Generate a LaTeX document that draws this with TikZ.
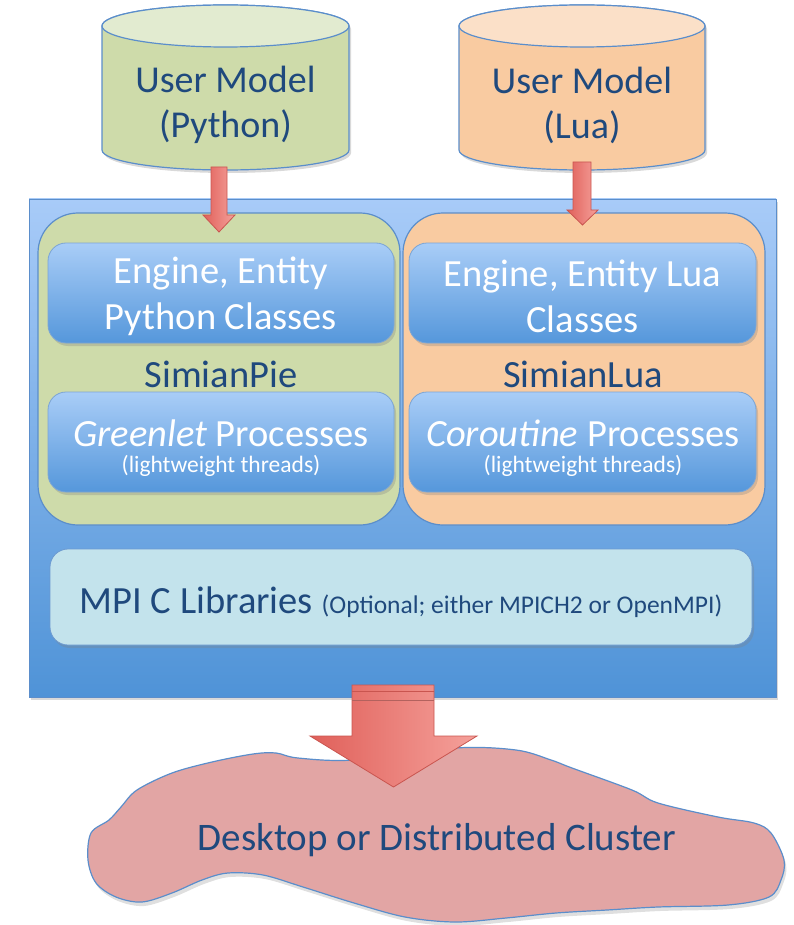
\documentclass[tikz,border=0pt]{standalone}
\usepackage{fontspec}
\setmainfont{Carlito}
\usetikzlibrary{shadows}
\definecolor{txtblue}{HTML}{1F497D}
\definecolor{edgeblue}{HTML}{5B8ECB}
\definecolor{frametop}{HTML}{A8CBF8}
\definecolor{framebot}{HTML}{4F93D7}
\definecolor{boxtop}{HTML}{A9CDF7}
\definecolor{boxbot}{HTML}{5597DB}
\definecolor{pyfill}{HTML}{CEDBAA}
\definecolor{pytop}{HTML}{E2EBD0}
\definecolor{luafill}{HTML}{F9CBA1}
\definecolor{luatop}{HTML}{FBE0C8}
\definecolor{mpifill}{HTML}{C3E3EC}
\definecolor{cloudfill}{HTML}{E2A5A4}
\definecolor{arrL}{HTML}{E0605A}
\definecolor{arrR}{HTML}{F5A19B}
\definecolor{arrEdge}{HTML}{C9554F}
\begin{document}
\begin{tikzpicture}[x=1pt,y=1pt,
  shadowed/.style={drop shadow={opacity=0.30,shadow xshift=2pt,shadow yshift=-3pt}},
  framebox/.style={draw=edgeblue,line width=0.8pt,top color=frametop,bottom color=framebot,
    inner sep=0pt,outer sep=0pt,anchor=north west,shadowed},
  panel/.style={draw=edgeblue,line width=1.2pt,rounded corners=40pt,inner sep=0pt,outer sep=0pt,anchor=north west},
  innerbox/.style={draw=edgeblue!80,line width=0.8pt,rounded corners=18pt,top color=boxtop,bottom color=boxbot,
    inner sep=0pt,outer sep=0pt,anchor=north west,minimum width=346pt,minimum height=100pt,shadowed},
  mpibox/.style={draw=edgeblue!90,line width=0.8pt,rounded corners=18pt,fill=mpifill,
    inner sep=0pt,outer sep=0pt,anchor=north west,shadowed},
  whitetxt/.style={text=white,align=center,font=\fontsize{38.5}{46}\selectfont},
  smalltxt/.style={text=white,font=\fontsize{23.5}{26}\selectfont},
  bluetxt/.style={text=txtblue,align=center,font=\fontsize{38}{45}\selectfont},
  blockarrow/.style={draw=arrEdge,line width=0.8pt,left color=arrL,right color=arrR},
  cylbody/.style={draw=edgeblue,line width=1.2pt,shadowed}
]
\useasboundingbox (0,0) rectangle (793,-925);

% ---------- cylinders ----------
\path[cylbody,fill=pyfill] (102,-26) -- (102,-150)
  arc[start angle=180,end angle=360,x radius=123.5,y radius=20] -- (349,-26)
  arc[start angle=0,end angle=180,x radius=123.5,y radius=21] -- cycle;
\draw[draw=edgeblue,line width=1.2pt,fill=pytop] (225.5,-26) ellipse[x radius=123.5,y radius=21];
\node[bluetxt] (pymodel) at (225.5,-105) {User Model\\(Python)};

\path[cylbody,fill=luafill] (459,-26) -- (459,-150)
  arc[start angle=180,end angle=360,x radius=123,y radius=20] -- (705,-26)
  arc[start angle=0,end angle=180,x radius=123,y radius=21] -- cycle;
\draw[draw=edgeblue,line width=1.2pt,fill=luatop] (582,-26) ellipse[x radius=123,y radius=21];
\node[bluetxt] (luamodel) at (582,-105) {User Model\\(Lua)};

% ---------- frame ----------
\node[framebox,minimum width=747pt,minimum height=498pt] (frame) at (29,-199) {};

% ---------- panels ----------
\node[panel,fill=pyfill,minimum width=362pt,minimum height=312pt] (pypanel) at (38,-213) {};
\node[panel,fill=luafill,minimum width=362pt,minimum height=312pt] (luapanel) at (403,-213) {};

% small arrows
\draw[blockarrow] (211,-167) -- (227,-167) -- (227,-215) -- (235,-215) -- (219,-232)
  -- (203,-215) -- (211,-215) -- cycle;
\draw[blockarrow] (573,-162) -- (591,-162) -- (591,-210) -- (598,-210) -- (582.5,-225)
  -- (567,-210) -- (573,-210) -- cycle;

% ---------- inner boxes ----------
\node[innerbox] (pyeng) at (48,-243) {};
\node[whitetxt] (pyengtxt) at ([yshift=-3pt]pyeng.center) {Engine, Entity\\Python Classes};
\node[innerbox] (pyproc) at (48,-392) {};
\node[whitetxt] (pyproctxt) at (221,-433) {\textit{Greenlet} Processes};
\node[smalltxt] (pythr) at (221,-466) {(lightweight threads)};
\node[bluetxt,font=\fontsize{38.5}{42}\selectfont] (simpie) at (221,-374) {SimianPie};

\node[innerbox,minimum width=347pt] (luaeng) at (409,-243) {};
\node[whitetxt] (luaengtxt) at ([yshift=-3pt]luaeng.center) {Engine, Entity Lua\\Classes};
\node[innerbox,minimum width=347pt] (luaproc) at (409,-392) {};
\node[whitetxt] (luaproctxt) at (583,-433) {\textit{Coroutine} Processes};
\node[smalltxt] (luathr) at (583,-466) {(lightweight threads)};
\node[bluetxt,font=\fontsize{38.5}{42}\selectfont] (simlua) at (583,-374) {SimianLua};

% ---------- MPI ----------
\node[mpibox,minimum width=702pt,minimum height=96pt] (mpi) at (50,-549) {};
\node[text=txtblue] (mpitxt) at (401,-602) {{\fontsize{38.5}{40}\selectfont MPI C Libraries }%
{\fontsize{25.5}{28}\selectfont (Optional; either MPICH2 or OpenMPI)}};

% ---------- cloud ----------
\draw[draw=edgeblue,line width=1.2pt,fill=cloudfill,drop shadow={opacity=0.25,shadow xshift=2pt,shadow yshift=-4pt}]
  plot[smooth cycle,tension=0.55] coordinates {
  (253,-754) (276,-753) (298,-758) (354,-760) (455,-748) (516,-750) (551,-760) (572,-768)
  (632,-790) (658,-803) (718,-817) (754,-823) (771,-833) (784,-860) (781,-880) (769,-897)
  (728,-905) (658,-907) (607,-910) (556,-913) (506,-918) (455,-922) (405,-917) (354,-903)
  (303,-887) (263,-875) (228,-873) (202,-880) (172,-893) (142,-902) (116,-897) (96,-883)
  (88,-860) (91,-833) (109,-820) (121,-807) (137,-790) (172,-773) (212,-762)};
\node[text=txtblue,font=\fontsize{39}{42}\selectfont] (cluster) at (437,-840) {Desktop or Distributed Cluster};

% ---------- big arrow ----------
\draw[blockarrow] (352,-685) -- (434,-685) -- (434,-736) -- (477,-736) -- (393.5,-787)
  -- (310,-736) -- (352,-736) -- cycle;
\draw[arrEdge,line width=0.8pt] (352,-691) -- (434,-691);
\draw[arrEdge!70!gray,line width=0.8pt] (352,-700) -- (434,-700);
\end{tikzpicture}
\end{document}
